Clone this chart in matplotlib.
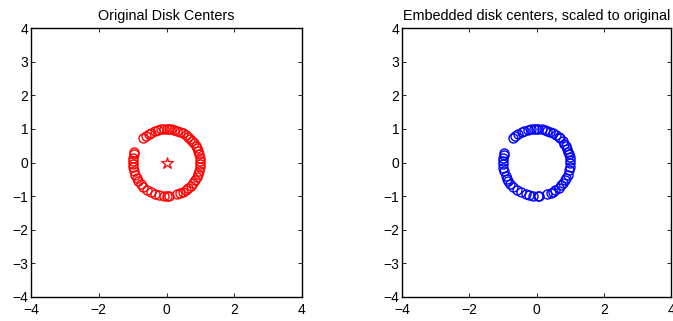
import numpy as np
import matplotlib
matplotlib.use('Agg')
import matplotlib.pyplot as plt

plt.rcParams['font.family'] = ['Liberation Sans', 'DejaVu Sans']
plt.rcParams['font.size'] = 10

# angles (degrees) of the disk centers on the unit circle
orig_angles = [133, 128, 122, 117, 110, 104, 100, 95, 90, 86, 82, 77, 72, 66,
               60, 55, 50, 45, 40, 35, 30, 25, 20, 14, 8, 3, -2, -8, -14, -20,
               -26, -32, -38, -44, -50, -55, -60, -66, -72, -86, -89, -95,
               -102, -110, -118, -126, -133, -140, -146, -152, -158, -165,
               -172, -178, 178, 172, 166, 162]
emb_angles = [134, 129, 123, 116, 111, 105, 99, 94, 91, 87, 81, 76, 71, 67,
              61, 54, 49, 46, 39, 34, 29, 24, 19, 15, 9, 4, -1, -7, -13, -21,
              -27, -31, -37, -43, -49, -56, -61, -65, -71, -85, -88, -96,
              -103, -109, -117, -125, -134, -141, -147, -151, -157, -166,
              -171, -177, 177, 173, 167, 163]
orig_r = [1.0] * len(orig_angles)
emb_r = [1.0] * len(emb_angles)
center = [0.0, 0.0]

titles = ['Original Disk Centers', 'Embedded disk centers, scaled to original']
colors = ['red', 'blue']

fig = plt.figure(figsize=(6.73, 3.21), dpi=100)
ax1 = fig.add_axes([31 / 673, 1 - 297 / 321, 271 / 673, 269 / 321])
ax2 = fig.add_axes([402 / 673, 1 - 297 / 321, 269 / 673, 269 / 321])

data = [(orig_angles, orig_r), (emb_angles, emb_r)]
for ax, (ang, r), title, c in zip([ax1, ax2], data, titles, colors):
    th = np.deg2rad(ang)
    x = np.array(r) * np.cos(th)
    y = np.array(r) * np.sin(th)
    ax.plot(x, y, 'o', mfc='none', mec=c, ms=6.5, mew=1.0)
    ax.set_xlim(-4, 4)
    ax.set_ylim(-4, 4)
    ax.set_xticks(np.arange(-4, 5, 2))
    ax.set_yticks(np.arange(-4, 5, 1))
    ax.tick_params(direction='in', top=True, right=True, length=3, width=0.6,
                   labelsize=10)
    ax.tick_params(axis='x', pad=4)
    ax.tick_params(axis='y', pad=2)
    for s in ax.spines.values():
        s.set_linewidth(1.0)
    ax.set_title(title, fontsize=10.4, pad=6)

ax1.plot(center[0], center[1], '*', mfc='none', mec='red', ms=9, mew=0.9)

plt.savefig('out.png', dpi=100)
plt.close(fig)
